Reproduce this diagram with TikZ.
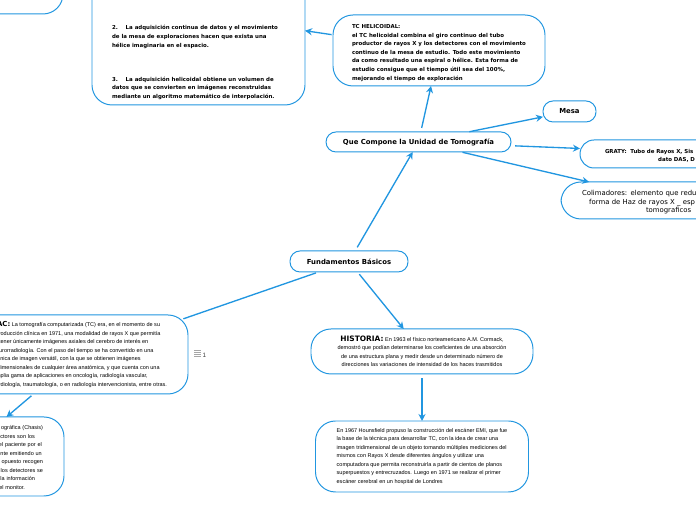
\documentclass[tikz,border=0pt]{standalone}
\usepackage{fontspec}
\setmainfont{Liberation Sans}
\newfontfamily\titlefont{DejaVu Sans}
\usepackage{xcolor}
\usetikzlibrary{arrows.meta, positioning}
\definecolor{mapblue}{HTML}{2196E0}
\tikzset{
  topic/.style = {rectangle, draw=mapblue, fill=white, line width=0.7pt, outer sep=0pt, inner sep=0pt,
    rounded corners=0.5cm, align=center},
  smalltopic/.style = {topic, rounded corners=0.25cm, font=\titlefont\bfseries\fontsize{4.9}{6}\selectfont},
  bodytext/.style = {font=\fontsize{3.92}{6.05}\selectfont},
  boldtext/.style = {font=\titlefont\bfseries\fontsize{3.87}{6.1}\selectfont},
  arrow/.style = {draw=mapblue, line width=0.95pt, -{Stealth[length=5pt,width=5pt]}},
  line/.style  = {draw=mapblue, line width=0.95pt},
}

\begin{document}
\begin{tikzpicture}
  \path[clip] (0,0) rectangle (17.4,13);

  % Central topic
  \node[smalltopic, minimum width=2.95cm, minimum height=0.525cm] (root) at (8.725,6.4625) {Fundamentos Básicos};

  % Upper branch
  \node[smalltopic, minimum width=4.625cm, minimum height=0.5cm, above=2.475cm of root, xshift=1.7375cm] (unidad)
    {Que Compone la Unidad de Tomografía};
  \node[topic, boldtext, minimum width=5.3cm, minimum height=1.775cm, align=left, above=1.15cm of unidad, xshift=0.5125cm] (helicoidal)
    {\rule{0pt}{0.225cm}TC HELICOIDAL:\\
     el TC helicoidal combina el giro continuo del tubo\\
     productor de rayos X y los detectores con el movimiento\\
     continuo de la mesa de estudio. Todo este movimiento\\
     da como resultado una espiral o hélice. Esta forma de\\
     estudio consigue que el tiempo útil sea del 100\%,\\
     mejorando el tiempo de exploración};
  \node[topic, boldtext, minimum width=5.325cm, minimum height=4.5cm, align=left, left=0.7cm of helicoidal, yshift=0.8875cm] (pasos)
    {\mbox{}\\[2.27cm]
     2.\hspace*{5.6pt}La adquisición continua de datos y el movimiento\rule{5pt}{0pt}\\
     de la mesa de exploraciones hacen que exista una\\
     hélice imaginaria en el espacio.\\[0.64cm]
     3.\hspace*{5.6pt}La adquisición helicoidal obtiene un volumen de\\
     datos que se convierten en imágenes reconstruidas\\
     mediante un algoritmo matemático de interpolación.};
  \node[topic, minimum width=5.325cm, minimum height=1.85cm, left=0.725cm of pasos, yshift=0.95cm] (previo) {};

  % Right branch
  \node[smalltopic, minimum width=1.325cm, minimum height=0.525cm, right=0.8cm of unidad, yshift=0.7625cm] (mesa) {Mesa};
  \node[topic, boldtext, rounded corners=0.35cm, minimum width=6.9cm, minimum height=0.7cm, text width=5.65cm, align=left, right=1.725cm of unidad, yshift=-0.3cm] (graty)
    {\rule{0pt}{0.2cm}GRATY:\ \ Tubo de Rayos X, Sis\\\hspace*{1.33cm}dato DAS, D};
  \node[topic, minimum width=5.35cm, minimum height=0.925cm, text width=4.3cm, align=left, font=\titlefont\fontsize{4.9}{5.9}\selectfont, right=1.25cm of unidad, yshift=-1.4625cm] (colimador)
    {\rule{0pt}{0.22cm}Colimadores: elemento que redu\\\hspace*{0.18cm}forma de Haz de rayos X \_ esp\\\hspace*{1.6cm}tomograficos};

  % Left branch
  \node[topic, bodytext, minimum width=5.4cm, minimum height=1.975cm, align=left, left=2.55cm of root, yshift=-2.325cm] (tac)
    {{\titlefont\bfseries\fontsize{4.9}{6}\selectfont TAC:} La tomografía computarizada (TC) era, en el momento de su\\
     introducción clínica en 1971, una modalidad de rayos X que permitía\\
     obtener únicamente imágenes axiales del cerebro de interés en\\
     neurorradiología. Con el paso del tiempo se ha convertido en una\\
     técnica de imagen versátil, con la que se obtienen imágenes\\
     tridimensionales de cualquier área anatómica, y que cuenta con una\\
     amplia gama de aplicaciones en oncología, radiología vascular,\\
     cardiología, traumatología, o en radiología intervencionista, entre otras.};
  \node[topic, bodytext, minimum width=5.2cm, minimum height=1.975cm, text width=4.15cm, align=right, below=0.575cm of tac, xshift=-3cm] (chasis)
    {\rule{0pt}{0.14cm}ográfica (Chasis)\\
     ctores son los\rule{0.2cm}{0pt}\\
     el paciente por el\rule{0.03cm}{0pt}\\
     ente emitiendo un\rule{0.03cm}{0pt}\\
     opuesto recogen\\
     los detectores se\\
     la información\rule{0.2cm}{0pt}\\
     el monitor.\rule{0.45cm}{0pt}};
  \node[font=\fontsize{4.5}{5}\selectfont, text=black!75, inner sep=0pt, right=0.36cm of tac, yshift=-0.01cm] (contador) {1};
  \foreach \k in {0,1,2,3}
    \draw[black!35, line width=0.5pt] ([xshift=-0.2cm, yshift=0.02cm+\k*0.05cm]contador.south west) -- ++(0.16,0);

  % Lower branch
  \node[topic, bodytext, minimum width=5.55cm, minimum height=1.125cm, below=1.425cm of root, xshift=1.825cm] (historia)
    {{\titlefont\bfseries\fontsize{5.3}{6}\selectfont HISTORIA:} En 1963 el físico norteamericano A.M. Cormack,\\
     demostró que podían determinarse los coeficientes de una absorción\\
     de una estructura plana y medir desde un determinado número de\\
     direcciones las variaciones de intensidad de los haces trasmitidos};
  \node[topic, bodytext, minimum width=5.325cm, minimum height=1.775cm, align=left, below=1.175cm of historia] (hounsfield)
    {En 1967 Hounsfield propuso la construcción del escáner EMI, que fue\\
     la base de la técnica para desarrollar TC, con la idea de crear una\\
     imagen tridimensional de un objeto tomando múltiples mediciones del\\
     mismos con Rayos X desde diferentes ángulos y utilizar una\\
     computadora que permita reconstruirla a partir de cientos de planos\\
     superpuestos y entrecruzados. Luego en 1971 se realizar el primer\\
     escáner cerebral en un hospital de Londres};

  % Connectors
  \draw[arrow, shorten <=3pt] (root) -- (unidad);
  \draw[arrow, shorten <=3pt] (unidad) -- (helicoidal);
  \draw[arrow, shorten <=1pt] (helicoidal) -- (pasos);
  \draw[arrow, shorten <=1pt] (unidad) -- (mesa);
  \draw[arrow, shorten <=3pt] (unidad) -- (graty);
  \draw[arrow, shorten <=1pt] (unidad) -- (colimador);
  \draw[line, shorten <=2pt, shorten >=-3.5pt] (root) -- (tac);
  \draw[arrow, shorten <=2pt] (root) -- (historia);
  \draw[arrow, shorten <=3pt] (historia) -- (hounsfield);
  \draw[arrow, shorten <=2pt] (tac) -- (chasis);

\end{tikzpicture}
\end{document}
